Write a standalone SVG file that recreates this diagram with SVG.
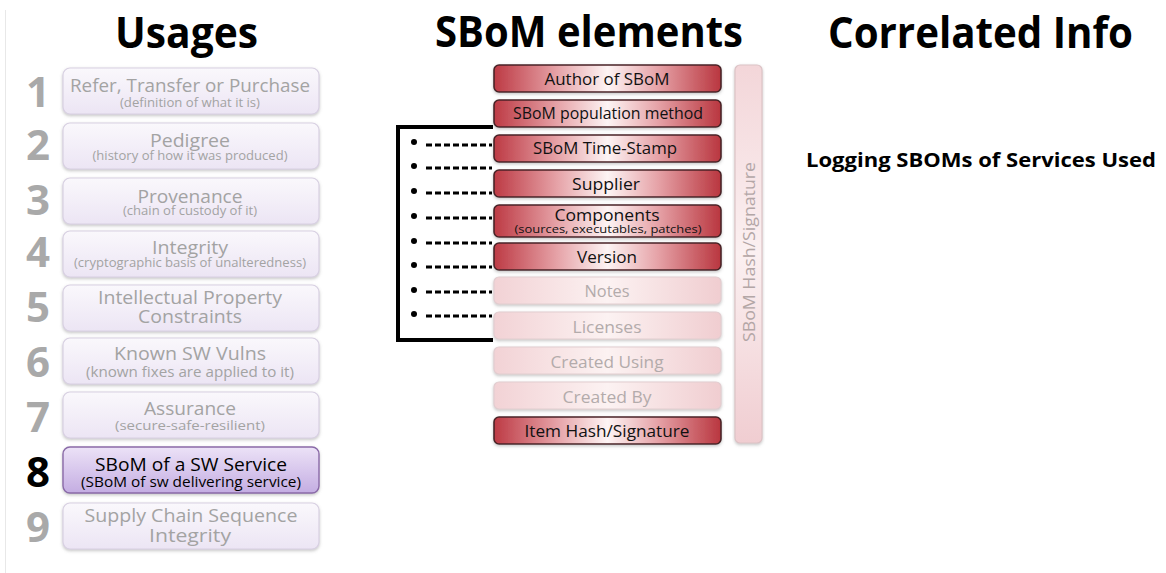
<svg xmlns="http://www.w3.org/2000/svg" width="1166" height="573" viewBox="0 0 1166 573">
  <defs>
    <style>
      text { font-family: "Open Sans", "Noto Sans", "DejaVu Sans", sans-serif; }
      .title { font-weight: bold; font-size: 43px; fill: #000; }
      .num { font-weight: bold; font-size: 42px; fill: #a9a9a9; text-anchor: middle; }
      .usage rect { fill: url(#usageFill); stroke: #d8d0e2; stroke-width: 1.2; filter: url(#softShadow); }
      .usage .main { font-size: 18.5px; fill: #a3a3a3; text-anchor: middle; }
      .usage .tight { font-size: 17.5px; }
      .usage .sub { font-size: 12.5px; fill: #a3a3a3; text-anchor: middle; }
      .usage.active rect { fill: url(#activeFill); stroke: #8a6aa8; stroke-width: 1.4; }
      .usage.active .main, .usage.active .sub { fill: #000; }
      .usage.active .num { fill: #000; }
      .elem rect { rx: 5px; filter: url(#softShadow); }
      .elem.on rect { fill: url(#redFill); stroke: #4a2226; stroke-width: 1.6; }
      .elem.off rect { fill: url(#paleFill); stroke: #e2cdd0; stroke-width: 1.2; }
      .elem text { font-size: 17px; text-anchor: middle; }
      .elem.on text { fill: #111; }
      .elem.off text { fill: #b3abab; }
      .elem .small { font-size: 10.5px; }
      .dash { stroke: #000; stroke-width: 3; stroke-dasharray: 6 3; fill: none; }
      .bullet { fill: #000; }
    </style>
    <linearGradient id="usageFill" x1="0" y1="0" x2="0" y2="1">
      <stop offset="0" stop-color="#faf8fc"/>
      <stop offset="1" stop-color="#ece5f4"/>
    </linearGradient>
    <linearGradient id="activeFill" x1="0" y1="0" x2="0" y2="1">
      <stop offset="0" stop-color="#ece2f7"/>
      <stop offset="1" stop-color="#c4ade2"/>
    </linearGradient>
    <linearGradient id="redFill" x1="0" y1="0" x2="1" y2="0">
      <stop offset="0" stop-color="#bd3a44"/>
      <stop offset="0.28" stop-color="#e6a3a8"/>
      <stop offset="0.5" stop-color="#fdf4f4"/>
      <stop offset="0.72" stop-color="#e6a3a8"/>
      <stop offset="1" stop-color="#b9363f"/>
    </linearGradient>
    <linearGradient id="paleFill" x1="0" y1="0" x2="1" y2="0">
      <stop offset="0" stop-color="#f2d2d5"/>
      <stop offset="0.5" stop-color="#fcf2f2"/>
      <stop offset="1" stop-color="#f0cdd0"/>
    </linearGradient>
    <linearGradient id="barFill" x1="0" y1="0" x2="0" y2="1">
      <stop offset="0" stop-color="#f3d6d9"/>
      <stop offset="0.5" stop-color="#fbf0f1"/>
      <stop offset="1" stop-color="#f0cdd1"/>
    </linearGradient>
    <filter id="softShadow" x="-10%" y="-30%" width="120%" height="160%">
      <feDropShadow dx="0" dy="1.5" stdDeviation="1.5" flood-color="#808080" flood-opacity="0.45"/>
    </filter>
  </defs>

  <rect width="1166" height="573" fill="#ffffff"/>
  <line x1="5.5" y1="10" x2="5.5" y2="573" stroke="#e8e8e8" stroke-width="1"/>

  <!-- column headings -->
  <g id="headings">
    <text class="title" x="115" y="48" textLength="143" lengthAdjust="spacingAndGlyphs">Usages</text>
    <text class="title" x="435" y="47" textLength="308" lengthAdjust="spacingAndGlyphs">SBoM elements</text>
    <text class="title" x="828" y="48" textLength="305" lengthAdjust="spacingAndGlyphs">Correlated Info</text>
  </g>

  <!-- usage list -->
  <g id="usage-1" class="usage">
    <text class="num" x="38" y="107">1</text>
    <rect x="63" y="68" width="256" height="46" rx="7"/>
    <text class="main" x="190" y="92" textLength="240" lengthAdjust="spacingAndGlyphs">Refer, Transfer or Purchase</text>
    <text class="sub" x="190" y="107" textLength="140" lengthAdjust="spacingAndGlyphs">(definition of what it is)</text>
  </g>
  <g id="usage-2" class="usage">
    <text class="num" x="38" y="160">2</text>
    <rect x="63" y="123" width="256" height="46" rx="7"/>
    <text class="main" x="190" y="147" textLength="80" lengthAdjust="spacingAndGlyphs">Pedigree</text>
    <text class="sub" x="190" y="160" textLength="195" lengthAdjust="spacingAndGlyphs">(history of how it was produced)</text>
  </g>
  <g id="usage-3" class="usage">
    <text class="num" x="38" y="215">3</text>
    <rect x="63" y="178" width="256" height="46" rx="7"/>
    <text class="main" x="190" y="203" textLength="105" lengthAdjust="spacingAndGlyphs">Provenance</text>
    <text class="sub" x="190" y="215" textLength="134" lengthAdjust="spacingAndGlyphs">(chain of custody of it)</text>
  </g>
  <g id="usage-4" class="usage">
    <text class="num" x="38" y="267">4</text>
    <rect x="63" y="231" width="256" height="46" rx="7"/>
    <text class="main" x="190" y="254" textLength="76" lengthAdjust="spacingAndGlyphs">Integrity</text>
    <text class="sub" x="190" y="267" textLength="232" lengthAdjust="spacingAndGlyphs">(cryptographic basis of unalteredness)</text>
  </g>
  <g id="usage-5" class="usage">
    <text class="num" x="38" y="322">5</text>
    <rect x="63" y="285" width="256" height="46" rx="7"/>
    <text class="main tight" x="190" y="304" textLength="184" lengthAdjust="spacingAndGlyphs">Intellectual Property</text>
    <text class="main tight" x="190" y="323" textLength="104" lengthAdjust="spacingAndGlyphs">Constraints</text>
  </g>
  <g id="usage-6" class="usage">
    <text class="num" x="38" y="377">6</text>
    <rect x="63" y="338" width="256" height="46" rx="7"/>
    <text class="main" x="190" y="360" textLength="152" lengthAdjust="spacingAndGlyphs">Known SW Vulns</text>
    <text class="sub" x="190" y="377" style="font-size:15px" textLength="208" lengthAdjust="spacingAndGlyphs">(known fixes are applied to it)</text>
  </g>
  <g id="usage-7" class="usage">
    <text class="num" x="38" y="432">7</text>
    <rect x="63" y="392" width="256" height="46" rx="7"/>
    <text class="main" x="190" y="415" textLength="92" lengthAdjust="spacingAndGlyphs">Assurance</text>
    <text class="sub" x="190" y="430" style="font-size:13.5px" textLength="150" lengthAdjust="spacingAndGlyphs">(secure-safe-resilient)</text>
  </g>
  <g id="usage-8" class="usage active">
    <text class="num" x="38" y="487">8</text>
    <rect x="63" y="447" width="256" height="46" rx="7"/>
    <text class="main" x="191" y="471" textLength="192" lengthAdjust="spacingAndGlyphs">SBoM of a SW Service</text>
    <text class="sub" x="191" y="487" style="font-size:14px" textLength="220" lengthAdjust="spacingAndGlyphs">(SBoM of sw delivering service)</text>
  </g>
  <g id="usage-9" class="usage">
    <text class="num" x="38" y="542">9</text>
    <rect x="63" y="503" width="256" height="46" rx="7"/>
    <text class="main tight" x="191" y="522" textLength="213" lengthAdjust="spacingAndGlyphs">Supply Chain Sequence</text>
    <text class="main tight" x="190" y="542" textLength="82" lengthAdjust="spacingAndGlyphs">Integrity</text>
  </g>

  <!-- SBoM element stack -->
  <g id="elem-author" class="elem on">
    <rect x="494" y="65" width="227" height="27"/>
    <text x="607" y="85" textLength="125" lengthAdjust="spacingAndGlyphs">Author of SBoM</text>
  </g>
  <g id="elem-population" class="elem on">
    <rect x="494" y="100" width="227" height="27"/>
    <text x="608" y="119" textLength="190" lengthAdjust="spacingAndGlyphs">SBoM population method</text>
  </g>
  <g id="elem-timestamp" class="elem on">
    <rect x="494" y="135" width="227" height="27"/>
    <text x="605" y="154" textLength="144" lengthAdjust="spacingAndGlyphs">SBoM Time-Stamp</text>
  </g>
  <g id="elem-supplier" class="elem on">
    <rect x="494" y="170" width="227" height="27"/>
    <text x="606" y="190" textLength="68" lengthAdjust="spacingAndGlyphs">Supplier</text>
  </g>
  <g id="elem-components" class="elem on">
    <rect x="494" y="205" width="227" height="32"/>
    <text x="607" y="221" textLength="105" lengthAdjust="spacingAndGlyphs">Components</text>
    <text class="small" x="608" y="233" textLength="187" lengthAdjust="spacingAndGlyphs">(sources, executables, patches)</text>
  </g>
  <g id="elem-version" class="elem on">
    <rect x="494" y="243" width="227" height="27"/>
    <text x="607" y="263" textLength="60" lengthAdjust="spacingAndGlyphs">Version</text>
  </g>
  <g id="elem-notes" class="elem off">
    <rect x="494" y="277" width="227" height="27"/>
    <text x="607" y="297" textLength="45" lengthAdjust="spacingAndGlyphs">Notes</text>
  </g>
  <g id="elem-licenses" class="elem off">
    <rect x="494" y="312" width="227" height="27"/>
    <text x="607" y="333" textLength="69" lengthAdjust="spacingAndGlyphs">Licenses</text>
  </g>
  <g id="elem-created-using" class="elem off">
    <rect x="494" y="347" width="227" height="27"/>
    <text x="607" y="368" textLength="113" lengthAdjust="spacingAndGlyphs">Created Using</text>
  </g>
  <g id="elem-created-by" class="elem off">
    <rect x="494" y="382" width="227" height="27"/>
    <text x="607" y="403" textLength="89" lengthAdjust="spacingAndGlyphs">Created By</text>
  </g>
  <g id="elem-item-hash" class="elem on">
    <rect x="494" y="417" width="227" height="27"/>
    <text x="607" y="437" textLength="165" lengthAdjust="spacingAndGlyphs">Item Hash/Signature</text>
  </g>

  <!-- whole-document signature bar -->
  <g id="sbom-hash-bar">
    <rect x="735" y="65" width="27" height="378" rx="5" fill="url(#barFill)" stroke="#dcc3c6" stroke-width="1.2" filter="url(#softShadow)"/>
    <text transform="translate(748,252) rotate(-90)" x="0" y="0" dominant-baseline="central" text-anchor="middle" font-size="16.5" fill="#b3a6a6" textLength="180" lengthAdjust="spacingAndGlyphs">SBoM Hash/Signature</text>
  </g>

  <!-- correlated info -->
  <g id="correlated-logging">
    <text x="806" y="167" font-weight="bold" font-size="20" fill="#000" textLength="350" lengthAdjust="spacingAndGlyphs">Logging SBOMs of Services Used</text>
  </g>

  <!-- bracket, bullets and dashed leaders -->
  <g id="connectors">
    <path d="M493 127 H398 V340 H493" fill="none" stroke="#000" stroke-width="4"/>
    <circle class="bullet" cx="414" cy="142" r="3"/>
    <circle class="bullet" cx="414" cy="166" r="3"/>
    <circle class="bullet" cx="414" cy="191" r="3"/>
    <circle class="bullet" cx="414" cy="216" r="3"/>
    <circle class="bullet" cx="414" cy="241" r="3"/>
    <circle class="bullet" cx="414" cy="265" r="3"/>
    <circle class="bullet" cx="414" cy="290" r="3"/>
    <circle class="bullet" cx="414" cy="314" r="3"/>
    <line class="dash" x1="426" y1="145" x2="492" y2="145"/>
    <line class="dash" x1="426" y1="168" x2="492" y2="168"/>
    <line class="dash" x1="426" y1="193" x2="492" y2="193"/>
    <line class="dash" x1="426" y1="218" x2="492" y2="218"/>
    <line class="dash" x1="426" y1="243" x2="492" y2="243"/>
    <line class="dash" x1="426" y1="267" x2="492" y2="267"/>
    <line class="dash" x1="426" y1="292" x2="492" y2="292"/>
    <line class="dash" x1="426" y1="316" x2="492" y2="316"/>
  </g>
</svg>
